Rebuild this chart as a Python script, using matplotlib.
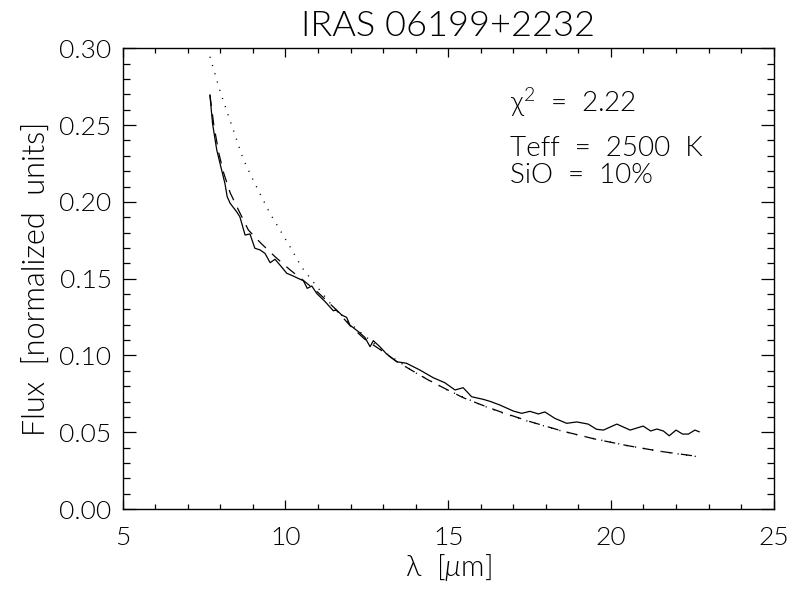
import matplotlib
matplotlib.use('Agg')
import matplotlib.pyplot as plt
from matplotlib.ticker import MultipleLocator

# Observed spectrum (solid)
wave_obs = [7.68, 7.76, 7.89, 8.04, 8.09, 8.14, 8.21, 8.30, 8.50, 8.60,
            8.76, 8.91, 9.06, 9.22, 9.37, 9.53, 9.68, 9.83, 10.04, 10.24,
            10.45, 10.55, 10.67, 10.81, 10.96, 11.22, 11.47, 11.57, 11.73,
            11.88, 11.98, 12.24, 12.44, 12.60, 12.70, 12.90, 13.11, 13.42,
            13.72, 14.13, 14.54, 14.90, 15.21, 15.46, 15.72, 16.08, 16.30,
            16.59, 17.00, 17.26, 17.51, 17.77, 17.97, 18.28, 18.64, 18.95,
            19.30, 19.56, 19.77, 20.18, 20.59, 20.99, 21.22, 21.41, 21.61,
            21.79, 22.00, 22.20, 22.38, 22.58, 22.71]
flux_obs = [0.2696, 0.2511, 0.2338, 0.2207, 0.2164, 0.2121, 0.2034, 0.1991,
            0.1936, 0.1903, 0.1784, 0.1791, 0.1698, 0.1687, 0.1665, 0.1604,
            0.1626, 0.1589, 0.1535, 0.1517, 0.1496, 0.1487, 0.1437, 0.1452,
            0.1404, 0.1350, 0.1291, 0.1296, 0.1263, 0.1248, 0.1198, 0.1155,
            0.1118, 0.1057, 0.1096, 0.1057, 0.1009, 0.0959, 0.0949, 0.0905,
            0.0855, 0.0822, 0.0775, 0.0790, 0.0731, 0.0714, 0.0700, 0.0677,
            0.0638, 0.0623, 0.0636, 0.0619, 0.0632, 0.0590, 0.0558, 0.0567,
            0.0553, 0.0519, 0.0514, 0.0553, 0.0514, 0.0540, 0.0508, 0.0521,
            0.0508, 0.0477, 0.0514, 0.0488, 0.0488, 0.0514, 0.0503]

# Model with SiO (dashed)
wave_model = [7.68, 7.80, 7.95, 8.10, 8.30, 8.55, 8.86, 9.25, 9.68, 10.12,
              10.60, 11.00, 11.50, 11.98, 12.44, 12.96, 13.42, 14.00, 14.39,
              14.95, 15.46, 16.00, 16.59, 17.5, 18.5, 19.5, 20.5, 21.5, 22.71]
flux_model = [0.2696, 0.250, 0.232, 0.219, 0.206, 0.195, 0.1817, 0.1730,
              0.1643, 0.1561, 0.1480, 0.1410, 0.1310, 0.1195, 0.1105, 0.1031,
              0.0960, 0.0888, 0.0840, 0.0779, 0.0725, 0.0680, 0.0634, 0.0570,
              0.0508, 0.0456, 0.0413, 0.0376, 0.0341]

# Photosphere (dotted)
wave_phot = [7.68, 8.0, 8.5, 8.7, 9.0, 9.525, 10.14, 10.5, 11.01, 11.42,
             12.0, 13.0, 14.0, 15.0, 16.0, 16.59, 17.5, 18.5, 19.5, 20.5,
             21.5, 22.71]
flux_phot = [0.2945, 0.2715, 0.2405, 0.228, 0.2145, 0.1925, 0.1708, 0.1574,
             0.1437, 0.1328, 0.1205, 0.1028, 0.0886, 0.0772, 0.0679, 0.0631,
             0.0568, 0.0507, 0.0457, 0.0413, 0.0376, 0.0339]

title = 'IRAS 06199+2232'
fit_lines = [r'$\mathrm{\chi}^{2}$  =  2.22', 'Teff  =  2500  K',
             'SiO  =  10%']
fit_y = [0.2585, 0.2300, 0.2120]

plt.rcParams['font.family'] = ['Lato', 'DejaVu Sans']
plt.rcParams['font.weight'] = 300
plt.rcParams['axes.titleweight'] = 300
plt.rcParams['axes.labelweight'] = 300
plt.rcParams['mathtext.fontset'] = 'custom'
plt.rcParams['mathtext.rm'] = 'Lato:weight=300'
plt.rcParams['mathtext.it'] = 'Lato:italic:weight=300'
plt.rcParams['lines.scale_dashes'] = False

fig = plt.figure(figsize=(7.89, 5.89), dpi=100)
ax = fig.add_axes([0.1555, 0.1358, 0.8251, 0.7822])

ax.plot(wave_obs, flux_obs, color='black', lw=0.9)
ax.plot(wave_model, flux_model, color='black', lw=0.9, dashes=(8, 6))
ax.plot(wave_phot, flux_phot, color='black', lw=1.0, dashes=(0.8, 5.4))

ax.set_xlim(5, 25)
ax.set_ylim(0, 0.30)
ax.xaxis.set_major_locator(MultipleLocator(5))
ax.xaxis.set_minor_locator(MultipleLocator(1))
ax.yaxis.set_major_locator(MultipleLocator(0.05))
ax.yaxis.set_minor_locator(MultipleLocator(0.01))
ax.yaxis.set_major_formatter(plt.FormatStrFormatter('%.2f'))

ax.tick_params(axis='both', which='both', direction='in', top=True,
               right=True, width=0.9, labelsize=19)
ax.tick_params(axis='x', which='major', length=6.6, pad=12)
ax.tick_params(axis='x', which='minor', length=3.3)
ax.tick_params(axis='y', which='major', length=9.4, pad=8)
ax.tick_params(axis='y', which='minor', length=4.7)
for spine in ax.spines.values():
    spine.set_linewidth(1.0)

ax.set_xlabel(r'λ  [$\mu$m]', fontsize=21, labelpad=2)
ax.set_ylabel('Flux  [normalized  units]', fontsize=22, labelpad=6)
ax.set_title(title, fontsize=26, pad=9)

for text, y in zip(fit_lines, fit_y):
    ax.text(16.9, y, text, fontsize=20, va='baseline', ha='left')

fig.savefig('out.png', dpi=100)
